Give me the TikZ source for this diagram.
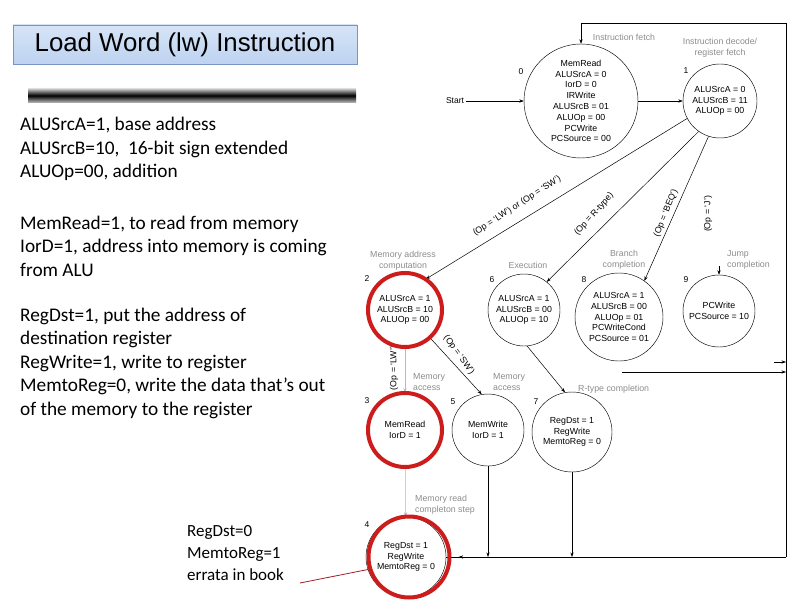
\documentclass[tikz,border=0pt]{standalone}
\usepackage{fontspec}
\setmainfont{Carlito}
\newfontfamily\dfont{Liberation Sans}
\usetikzlibrary{arrows.meta,decorations.markings}
\definecolor{ringred}{RGB}{204,28,28}
\definecolor{lblgray}{RGB}{140,140,140}
\definecolor{titletop}{RGB}{214,228,247}
\definecolor{titlebot}{RGB}{190,210,240}
\definecolor{titleborder}{RGB}{120,150,195}
\definecolor{errline}{RGB}{160,30,40}
\begin{document}
\begin{tikzpicture}[x=1pt,y=-1pt,
  st/.style={circle,draw,line width=0.45pt,inner sep=0pt,align=center,
    font=\dfont\fontsize{8.8}{10.8}\selectfont},
  ring/.style={circle,draw=ringred,line width=4pt,inner sep=0pt},
  lbl/.style={text=lblgray,font=\dfont\fontsize{8.8}{11}\selectfont,inner sep=0pt,align=center},
  num/.style={font=\dfont\fontsize{8.5}{9}\selectfont,inner sep=0pt},
  cond/.style={font=\dfont\fontsize{8.8}{10}\selectfont,inner sep=0pt},
  arr/.style={line width=0.5pt,-{Stealth[length=4.5pt,width=3.2pt]}},
  garr/.style={arr,draw=gray!55},
  lefttxt/.style={font=\fontsize{19.3}{23.5}\selectfont,align=left,inner sep=0pt,anchor=west},
]
\useasboundingbox (0,0) rectangle (792,612);

% ---- left side ----
\node[draw=titleborder,line width=0.6pt,top color=titletop,bottom color=titlebot,
      minimum width=344pt,minimum height=39pt,inner sep=0pt,
      font=\dfont\fontsize{25.8}{30}\selectfont] (title) at (185,44.5) {Load Word (lw) Instruction};
\shade[top color=gray!25,bottom color=gray!45,middle color=black] (28,88) rectangle (356,103);

\node[lefttxt] (t1) at (20,149) {ALUSrcA=1, base address\\ALUSrcB=10,\ \ 16-bit sign extended\\ALUOp=00, addition};
\node[lefttxt] (t2) at (20,246) {MemRead=1, to read from memory\\IorD=1, address into memory is coming\\from ALU};
\node[lefttxt] (t3) at (20,363) {RegDst=1, put the address of\\destination register\\RegWrite=1, write to register\\MemtoReg=0, write the data that’s out\\of the memory to the register};
\node[lefttxt,font=\fontsize{17}{22}\selectfont] (err) at (187,553) {RegDst=0\\MemtoReg=1\\errata in book};

% ---- states ----
\node[st,minimum size=114pt] (s0) at (581,101) {MemRead\\ALUSrcA = 0\\IorD = 0\\IRWrite\\ALUSrcB = 01\\ALUOp = 00\\PCWrite\\PCSource = 00};
\node[st,minimum size=74pt] (s1) at (720,101) {ALUSrcA = 0\\ALUSrcB = 11\\ALUOp = 00};
\node[st,minimum size=74pt] (s2) at (405,310) {ALUSrcA = 1\\ALUSrcB = 10\\ALUOp = 00};
\node[st,minimum size=72pt] (s6) at (524,310) {ALUSrcA = 1\\ALUSrcB = 00\\ALUOp = 10};
\node[st,minimum size=88pt] (s8) at (619,317) {ALUSrcA = 1\\ALUSrcB = 00\\ALUOp = 01\\PCWriteCond\\PCSource = 01};
\node[st,minimum size=72pt] (s9) at (719,311) {PCWrite\\PCSource = 10};
\node[st,minimum size=74pt] (s3) at (405,430) {MemRead\\IorD = 1};
\node[st,minimum size=72pt] (s5) at (488,430) {MemWrite\\IorD = 1};
\node[st,minimum size=80pt] (s7) at (572,432) {RegDst = 1\\RegWrite\\MemtoReg = 0};
\node[st,minimum size=80pt] (s4) at (406,557) {RegDst = 1\\RegWrite\\MemtoReg = 0};

% state numbers
\node[num] (n0) at (521,72) {0};
\node[num] (n1) at (686,71) {1};
\node[num] (n2) at (367,279) {2};
\node[num] (n6) at (492,280) {6};
\node[num] (n8) at (584,280) {8};
\node[num] (n9) at (686,280) {9};
\node[num] (n3) at (367,401) {3};
\node[num] (n5) at (453,402) {5};
\node[num] (n7) at (536,402) {7};
\node[num] (n4) at (367,525) {4};

% phase labels
\node[lbl] (lf) at (624,37) {Instruction fetch};
\node[lbl] (ld) at (720,48) {Instruction decode/\\register fetch};
\node[lbl] (lm) at (403,260.5) {Memory address\\computation};
\node[lbl] (le) at (528,265) {Execution};
\node[lbl] (lb) at (624,260) {Branch\\completion};
\node[lbl,align=left,anchor=west] (lj) at (727,260) {Jump\\completion};
\node[lbl,align=left,anchor=west] (lma) at (413,382) {Memory\\access};
\node[lbl,align=left,anchor=west] (lmb) at (493,382) {Memory\\access};
\node[lbl,anchor=west] (lr) at (578,389) {R-type completion};
\node[lbl,align=left,anchor=west] (lrc) at (415,504.5) {Memory read\\completon step};

% condition labels
\node[cond,rotate=33] (c1) at (517,206) {(Op = ‘LW’) or (Op = ‘SW’)};
\node[cond,rotate=48] (c2) at (594,214) {(Op = R-type)};
\node[cond,rotate=68] (c3) at (666,213) {(Op = ‘BEQ’)};
\node[cond,rotate=90] (c4) at (708,214) {(Op = ‘J’)};
\node[cond,rotate=90] (c5) at (394,368) {(Op = ‘LW’)};
\node[cond,rotate=-54] (c6) at (459,355) {(Op = ‘SW’)};

% ---- connectors ----
\node[font=\dfont\fontsize{8.5}{9}\selectfont,inner sep=2pt] (start) at (455,101) {Start};
\draw[arr] (start) -- (s0);
\draw[arr] (s0) -- (s1);
\draw[arr] (s1.208) -- (s2.56);
\draw[arr] (s1.235) -- (s6.51);
\draw[arr] (s1.252) -- (s8.55);
\coordinate (jt) at (719,266);
\draw[arr] (jt) -- (s9);
\draw[garr] (s2) -- (s3);
\draw[arr] (s2.-48) -- (s5.100);
\draw[arr] (s6.-85) -- (s7.100);
\draw[garr] (s3) -- (s4);

\coordinate (br) at (786,557);
\coordinate (tr) at (786,23);
\coordinate (tl) at (581,23);
\coordinate (r8) at (622,372);
\coordinate (r9) at (774,362);
\coordinate (w8) at (786,372);
\coordinate (w9) at (786,362);
\draw[arr] (br) -- (tr) -- (tl) -- (s0);
\draw[line width=0.5pt,postaction={decorate},
  decoration={markings,mark=at position 17pt with {\arrow{Stealth[length=4.5pt,width=3.2pt,reversed]}}}]
  (s4.east |- br) -- (br);
\draw[arr] (s5) -- (s5 |- br);
\draw[arr] (s7) -- (s7 |- br);
\draw[arr] (r8) -- (w8);
\draw[arr] (r9) -- (w9);

% ---- red rings ----
\node[ring,minimum size=74pt] (r2) at (405,310) {};
\node[ring,minimum size=74pt] (r3) at (405,430) {};
\node[ring,minimum size=81pt] (r4) at (409,557) {};
\coordinate (errc) at (300,583);
\draw[errline,line width=0.8pt] (errc) -- (r4.197);
\end{tikzpicture}
\end{document}
